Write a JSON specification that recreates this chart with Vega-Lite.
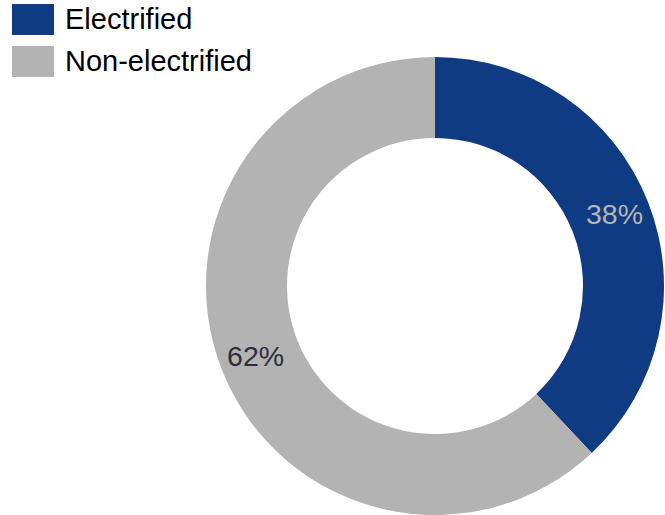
{
  "$schema": "https://vega.github.io/schema/vega-lite/v6.json",
  "autosize": {"type": "none"},
  "width": 458,
  "height": 458,
  "padding": {"left": 206, "top": 57, "right": 1, "bottom": 0},
  "background": "white",
  "config": {"view": {"stroke": null}, "font": "Liberation Sans"},
  "data": {"values": [
    {"category": "Electrified", "value": 0.38},
    {"category": "Non-electrified", "value": 0.62}
  ]},
  "encoding": {
    "theta": {"field": "value", "type": "quantitative", "stack": true},
    "order": {"field": "category"}
  },
  "layer": [
    {
      "mark": {"type": "arc", "outerRadius": 229, "innerRadius": 148},
      "encoding": {
        "color": {
          "field": "category", "type": "nominal",
          "scale": {"domain": ["Electrified", "Non-electrified"], "range": ["#0f3b82", "#b3b3b3"]},
          "legend": {
            "title": null,
            "orient": "none",
            "legendX": -194,
            "legendY": -58.5,
            "symbolType": "M-1,-0.738H1V0.738H-1Z",
            "symbolSize": 1764,
            "symbolStrokeWidth": 0,
            "rowPadding": 5,
            "labelFontSize": 29,
            "labelFont": "Liberation Sans",
            "labelColor": "#000000",
            "labelOffset": 11,
            "labelLimit": 400
          }
        }
      }
    },
    {
      "mark": {"type": "text", "radius": 193, "fontSize": 28.5, "font": "Liberation Sans"},
      "encoding": {
        "text": {"field": "value", "type": "quantitative", "format": ".0%"},
        "color": {
          "condition": {"test": "datum.category === 'Electrified'", "value": "#b5b5b5"},
          "value": "#2b303b"
        }
      }
    }
  ]
}
